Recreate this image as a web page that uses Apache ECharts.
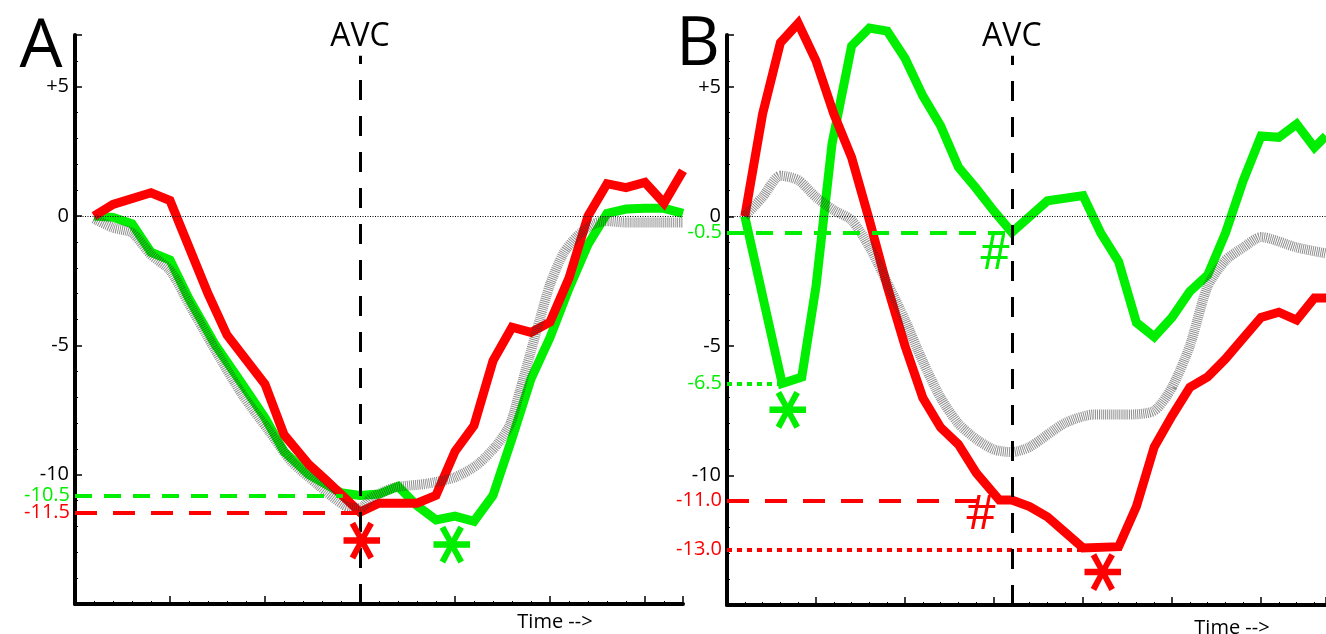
<!DOCTYPE html>
<html>
<head>
<meta charset="utf-8">
<script src="https://cdn.jsdelivr.net/npm/echarts@6/dist/echarts.min.js"></script>
<style>
html, body { margin: 0; background: #fff; }
#main { width: 1326px; height: 634px; }
</style>
</head>
<body>
<div id="main"></div>
<script>
var FONT = '"Open Sans", "DejaVu Sans", sans-serif';
var RED = '#ff0000';
var GREEN = '#00ee00';

// panel A, [time step, value]
var redA = [[1,0],[2,0.45],[4,0.9],[5,0.6],[7,-3.0],[8,-4.6],[10,-6.5],[11,-8.45],[12.3,-9.6],[13.2,-10.2],[15,-11.45],[16,-11.1],[18,-11.1],[19,-10.8],[20,-9.1],[21,-8.1],[22,-5.6],[23,-4.3],[24,-4.5],[25,-4.1],[26,-2.4],[27,0],[28,1.25],[29,1.1],[30,1.3],[31,0.5],[32,1.75]];
var greenA = [[1,0],[2,-0.05],[3,-0.3],[4,-1.4],[5,-1.7],[6,-3.2],[7.4,-5.0],[8.8,-6.5],[10,-7.8],[11,-9.1],[12.3,-10.0],[14,-10.7],[15,-10.8],[16,-10.75],[17,-10.45],[18,-11.2],[19,-11.75],[20,-11.6],[21,-11.8],[22,-10.8],[23,-8.6],[24,-6.3],[25,-4.7],[26,-2.8],[27,-1.1],[28,0.1],[29,0.27],[30,0.3],[31,0.3],[32,0.1]];
var greyA = [[1,-0.1],[2,-0.45],[3,-0.65],[4,-1.5],[5,-2.1],[6,-3.4],[7.4,-5.2],[8.8,-6.9],[10.2,-8.3],[11.4,-9.5],[12.8,-10.4],[14.2,-11.2],[15,-11.3],[15.6,-10.9],[16.8,-10.5],[18.5,-10.35],[20,-10.1],[21.2,-9.6],[22.2,-8.85],[22.9,-8.05],[23.4,-6.8],[23.95,-5.35],[24.5,-3.9],[25,-2.65],[25.7,-1.45],[26.4,-0.8],[27.3,-0.3],[28,-0.2],[29,-0.25],[32,-0.25]];

// panel B
var redB = [[1,0],[2,3.95],[3,6.7],[4,7.45],[5,6.0],[6,3.95],[7,2.27],[8,-0.15],[9,-2.7],[10,-5.0],[11,-7.0],[12,-8.15],[13,-8.8],[14,-9.9],[15.3,-10.95],[16,-10.95],[17,-11.2],[18,-11.6],[19,-12.2],[20,-12.8],[22,-12.75],[23,-11.2],[24,-8.9],[25,-7.7],[26,-6.6],[27,-6.2],[28,-5.5],[29,-4.7],[30,-3.9],[31,-3.7],[32,-4.0],[33,-3.15],[33.65,-3.15]];
var greenB = [[1,0],[3.1,-6.45],[4.2,-6.2],[5,-2.7],[5.9,2.8],[7,6.58],[8,7.27],[9,7.15],[10,6.1],[11,4.65],[12,3.5],[13,1.9],[14,1.08],[15,0.2],[16,-0.62],[18,0.6],[20,0.8],[21,-0.65],[22,-1.75],[23,-4.1],[24,-4.65],[25,-3.9],[26,-2.9],[27,-2.27],[28,-0.65],[29,1.38],[30,3.1],[31,3.05],[32,3.56],[33,2.66],[33.65,3.1]];
var greyB = [[1,0],[2,0.75],[3,1.57],[4,1.4],[5,0.74],[6,0.24],[7,-0.15],[8,-1.18],[9,-2.56],[10,-4.0],[11,-5.6],[12,-7.0],[13,-8.0],[14,-8.6],[15,-9.0],[16,-9.1],[17,-8.9],[19,-7.97],[20.6,-7.65],[22.5,-7.65],[24,-7.5],[25,-6.6],[26,-5.0],[27,-2.7],[28,-1.7],[29,-1.2],[30,-0.8],[32,-1.2],[33.65,-1.43]];

// AVC time step of each panel
var avcA = 15;
var avcB = 16;

// labelled y ticks
var yLabels = [-10, -5, 0, 5];

// reference levels: label, value, time step where the line stops
var greenDashA = [['-10.5', -10.8, 14.1]];
var redDashA = [['-11.5', -11.47, 15]];
var greenDashB = [['-0.5', -0.62, 16]];
var greenDotB = [['-6.5', -6.46, 3.0]];
var redDashB = [['-11.0', -10.96, 14.8]];
var redDotB = [['-13.0', -12.85, 20.1]];

// significance marks: symbol, time step, value
var redMarksA = [['*', 15.1, -12.55]];
var greenMarksA = [['*', 19.85, -12.7]];
var greenMarksB = [['*', 3.43, -7.47], ['#', 15.05, -1.49]];
var redMarksB = [['#', 14.27, -11.52], ['*', 21.1, -13.73]];

function refLines(list, color, dash) {
  return list.map(function (r) {
    return [{
      coord: [0, r[1]],
      lineStyle: { color: color, width: 4, type: dash },
      label: { show: true, position: 'start', formatter: r[0], color: color,
               fontSize: 20, fontFamily: FONT, distance: 5 }
    }, { coord: [r[2], r[1]] }];
  });
}

function marks(list, color) {
  return list.map(function (m) {
    var star = m[0] === '*';
    return {
      name: m[0], coord: [m[1], m[2]],
      label: star
        ? { fontSize: 78, fontWeight: 'bold', fontFamily: '"DejaVu Sans", sans-serif',
            rotate: 90, offset: [0, 20], color: color }
        : { fontSize: 48, fontFamily: FONT, offset: [0, 0], color: color }
    };
  });
}

function line(idx, data, color, extraLines, extraMarks) {
  return {
    type: 'line', xAxisIndex: idx, yAxisIndex: idx, data: data,
    showSymbol: false, clip: false, silent: true, z: 3,
    lineStyle: { color: color, width: 9, join: 'miter' },
    markLine: { silent: true, symbol: ['none', 'none'], data: extraLines || [] },
    markPoint: {
      silent: true, symbolSize: 0, data: extraMarks || [],
      label: { show: true, position: 'inside', formatter: '{b}' }
    }
  };
}

function greyLine(idx, data, avc) {
  return {
    type: 'line', xAxisIndex: idx, yAxisIndex: idx, data: data,
    showSymbol: false, clip: false, silent: true, smooth: 0.25, z: 4,
    lineStyle: { color: '#333', opacity: 0.55, width: 10, type: [1, 1] },
    markLine: {
      silent: true, symbol: ['none', 'none'],
      data: [
        { yAxis: 0, lineStyle: { color: '#000', width: 1, type: [1, 1.5] }, label: { show: false } },
        [{ coord: [avc, -15], lineStyle: { color: '#000', width: 3, type: [20, 16] },
           label: { show: true, position: 'end', formatter: 'AVC', color: '#000',
                    fontSize: 32, fontFamily: FONT, distance: 3 } },
         { coord: [avc, 6.2] }]
      ]
    }
  };
}

function xAxis(idx, max) {
  return {
    type: 'value', gridIndex: idx, min: 0, max: max, interval: 5,
    axisLine: { onZero: false, lineStyle: { color: '#000', width: 4 } },
    axisTick: { inside: true, length: 8, lineStyle: { color: '#000', width: 1.5 } },
    minorTick: { show: true, splitNumber: 5, length: 3, lineStyle: { color: '#000', width: 1 } },
    axisLabel: { show: false }, splitLine: { show: false }
  };
}

function yAxis(idx) {
  return {
    type: 'value', gridIndex: idx, min: -15, max: 7, interval: 5,
    axisLine: { onZero: false, lineStyle: { color: '#000', width: 4 } },
    axisTick: { inside: true, length: 7, lineStyle: { color: '#000', width: 1.5 } },
    minorTick: { show: true, splitNumber: 5, length: 3, lineStyle: { color: '#000', width: 1 } },
    axisLabel: {
      color: '#000', fontSize: 20, fontFamily: FONT, margin: 6, showMaxLabel: false,
      formatter: function (v) {
        if (yLabels.indexOf(v) < 0) return '';
        return v > 0 ? '+' + v : '' + v;
      }
    },
    splitLine: { show: false }
  };
}

var chart = echarts.init(document.getElementById('main'));
chart.setOption({
  animation: false,
  backgroundColor: '#fff',
  grid: [
    { left: 75, top: 35, width: 608, height: 569 },
    { left: 727, top: 35, width: 599, height: 570 }
  ],
  xAxis: [xAxis(0, 32), xAxis(1, 33.65)],
  yAxis: [yAxis(0), yAxis(1)],
  graphic: [
    { type: 'text', x: 41, y: 48, style: { text: 'A', font: '68px ' + FONT, fill: '#000', align: 'center', verticalAlign: 'middle' } },
    { type: 'text', x: 698, y: 46, style: { text: 'B', font: '68px ' + FONT, fill: '#000', align: 'center', verticalAlign: 'middle' } },
    { type: 'text', x: 555, y: 622, style: { text: 'Time -->', font: '20px ' + FONT, fill: '#000', align: 'center', verticalAlign: 'middle' } },
    { type: 'text', x: 1232, y: 628, style: { text: 'Time -->', font: '20px ' + FONT, fill: '#000', align: 'center', verticalAlign: 'middle' } }
  ],
  series: [
    line(0, greenA, GREEN, refLines(greenDashA, GREEN, [17, 12]), marks(greenMarksA, GREEN)),
    line(0, redA, RED, refLines(redDashA, RED, [22, 16]), marks(redMarksA, RED)),
    greyLine(0, greyA, avcA),
    line(1, greenB, GREEN, refLines(greenDashB, GREEN, [17, 12]).concat(refLines(greenDotB, GREEN, [5, 5])), marks(greenMarksB, GREEN)),
    line(1, redB, RED, refLines(redDashB, RED, [22, 16]).concat(refLines(redDotB, RED, [5, 5])), marks(redMarksB, RED)),
    greyLine(1, greyB, avcB)
  ]
});
</script>
</body>
</html>
